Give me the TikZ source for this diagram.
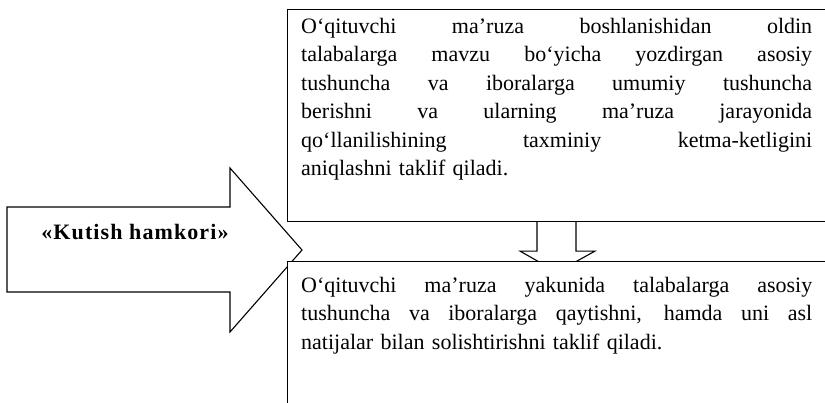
\documentclass[tikz,border=0pt]{standalone}
\usepackage{fontspec}
\setmainfont{Liberation Serif}
\usetikzlibrary{positioning}
\tikzset{
  box/.style={draw, line width=1.1pt, fill=white, anchor=north west, minimum width=560pt, inner sep=0pt},
  boxtext/.style={anchor=base west, inner sep=0pt, text width=511pt, align=left, font=\fontsize{22}{28.5}\selectfont},
  blockarrow/.style={draw, line width=1.1pt, line join=miter},
  arrowtext/.style={inner sep=0pt, font=\fontsize{22}{25}\selectfont\bfseries\addfontfeature{LetterSpace=5}},
}
\newcommand{\fullline}[1]{\makebox[511pt][s]{\spaceskip=\fontdimen2\font plus 1fil\relax #1}}

\begin{document}
\begin{tikzpicture}[x=1pt, y=-1pt]
  \useasboundingbox (0,0) rectangle (825,402);
  \clip (0,0) rectangle (825,402);

  % big arrow on the left
  \draw[blockarrow] (7,207) -- (230,207) -- (230,168) -- (302,250) -- (230,332) -- (230,292) -- (7,292) -- cycle;
  \node[arrowtext] (kutish) at (135,232) {«Kutish hamkori»};

  % the two boxes
  \node[box, minimum height=212pt] (first) at (287,9) {};
  \node[box, minimum height=160pt, below=39pt of first.south west, anchor=north west] (second) {};

  \node[boxtext] (firsttext) at ([shift={(14pt,-24pt)}]first.north west) {%
    \fullline{O‘qituvchi ma’ruza boshlanishidan oldin}\\
    \fullline{talabalarga mavzu bo‘yicha yozdirgan asosiy}\\
    \fullline{tushuncha va iboralarga umumiy tushuncha}\\
    \fullline{berishni va ularning ma’ruza jarayonida}\\
    \fullline{qo‘llanilishining taxminiy ketma-ketligini}\\
    aniqlashni taklif qiladi.};
  \node[boxtext] (secondtext) at ([shift={(14pt,-31pt)}]second.north west) {%
    \fullline{O‘qituvchi ma’ruza yakunida talabalarga asosiy}\\
    \fullline{tushuncha va iboralarga qaytishni, hamda uni asl}\\
    natijalar bilan solishtirishni taklif qiladi.};

  % small arrow between the boxes
  \begin{scope}
    \clip (first.south west) rectangle (second.north east);
    \draw[blockarrow] ([xshift=250pt]first.south west) -- ++(0,29) -- ++(-17,0) -- ++(37,21) -- ++(38,-21) -- ++(-19,0) -- ++(0,-29);
  \end{scope}
\end{tikzpicture}
\end{document}
